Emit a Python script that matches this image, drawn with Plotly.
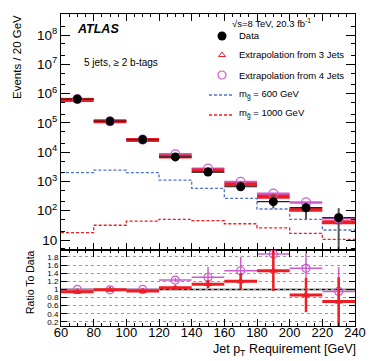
import plotly.graph_objects as go

# ---------------- data ----------------
bin_edges = [60, 80, 100, 120, 140, 160, 180, 200, 220, 240]
bin_centers = [70, 90, 110, 130, 150, 170, 190, 210, 230]
data_vals = [6.5e5, 1.15e5, 2.7e4, 6.9e3, 2.1e3, 660, 205, 127, 58]
data_err_up = [5e3, 1.5e3, 500, 200, 150, 100, 150, 55, 65]
data_err_dn = [5e3, 1.5e3, 500, 200, 150, 100, 85, 75, 55]
ratio_3jets = [0.94, 0.99, 0.96, 1.04, 1.13, 1.20, 1.46, 0.86, 0.70]
ratio_3jets_err = [0.03, 0.02, 0.03, 0.04, 0.10, 0.20, 0.50, 0.42, 0.60]
ratio_4jets = [1.00, 0.99, 1.00, 1.23, 1.30, 1.46, 1.87, 1.52, 0.95]
ratio_4jets_err = [0.03, 0.02, 0.03, 0.05, 0.25, 0.34, 0.50, 0.41, 0.60]
sig_600 = [2.0e3, 2.45e3, 2.0e3, 1.12e3, 580, 265, 115, 51, 22]
sig_1000 = [18, 32, 44, 51, 46, 36, 26, 17, 10.5]
main_tick_vals = [10, 1e2, 1e3, 1e4, 1e5, 1e6, 1e7, 1e8]
main_tick_text = ["10", "10<sup>2</sup>", "10<sup>3</sup>", "10<sup>4</sup>", "10<sup>5</sup>",
                  "10<sup>6</sup>", "10<sup>7</sup>", "10<sup>8</sup>"]
ratio_tick_vals = [0.2, 0.4, 0.6, 0.8, 1.0, 1.2, 1.4, 1.6, 1.8]
ratio_tick_text = ["0.2", "0.4", "0.6", "0.8", "1", "1.2", "1.4", "1.6", "1.8"]

ext_3jets = [d * r for d, r in zip(data_vals, ratio_3jets)]
ext_4jets = [d * r for d, r in zip(data_vals, ratio_4jets)]

RED = "#f01c24"
PINK = "#cc5ccc"
BLUE = "#5272c8"
FONT = "Liberation Sans"

W, H = 374, 361
L, R, T, B = 61, 355, 14, 326
SPLIT_PX = 250


def px(x):
    return (x - L) / (R - L)


def py(y):
    return (B - y) / (B - T)


def segs(vals):
    xs, ys = [], []
    for i, v in enumerate(vals):
        xs += [bin_edges[i], bin_edges[i + 1], None]
        ys += [v, v, None]
    return xs, ys


fig = go.Figure()

# ---- main panel ----
fig.add_trace(go.Scatter(x=bin_edges, y=sig_600 + [sig_600[-1]], mode="lines",
                         line=dict(shape="hv", color=BLUE, width=1.3, dash="3px,2px"),
                         xaxis="x", yaxis="y"))
fig.add_trace(go.Scatter(x=bin_edges, y=sig_1000 + [sig_1000[-1]], mode="lines",
                         line=dict(shape="hv", color=RED, width=1.3, dash="3px,2px"),
                         xaxis="x", yaxis="y"))
sx, sy = segs(ext_4jets)
fig.add_trace(go.Scatter(x=sx, y=sy, mode="lines", line=dict(color=PINK, width=2.5),
                         xaxis="x", yaxis="y"))
sx, sy = segs(ext_3jets)
fig.add_trace(go.Scatter(x=sx, y=sy, mode="lines", line=dict(color=RED, width=4),
                         xaxis="x", yaxis="y"))
sx, sy = segs(data_vals)
fig.add_trace(go.Scatter(x=sx, y=sy, mode="lines", line=dict(color="#222", width=1.2),
                         xaxis="x", yaxis="y"))
fig.add_trace(go.Scatter(x=bin_centers, y=ext_3jets, mode="markers",
                         marker=dict(symbol="triangle-up-open", size=6, color=RED, line=dict(width=1)),
                         xaxis="x", yaxis="y"))
fig.add_trace(go.Scatter(x=bin_centers, y=ext_4jets, mode="markers",
                         marker=dict(symbol="circle-open", size=9, color=PINK, line=dict(width=1.2)),
                         xaxis="x", yaxis="y"))
fig.add_trace(go.Scatter(x=bin_centers, y=data_vals, mode="markers",
                         marker=dict(symbol="circle", size=9, color="black"),
                         error_y=dict(type="data", array=data_err_up, arrayminus=data_err_dn,
                                      color="#555", thickness=2, width=0),
                         xaxis="x", yaxis="y"))

# ---- ratio panel ----
sx, sy = segs(ratio_4jets)
fig.add_trace(go.Scatter(x=sx, y=sy, mode="lines", line=dict(color=PINK, width=1.5),
                         xaxis="x2", yaxis="y2"))
fig.add_trace(go.Scatter(x=bin_centers, y=ratio_4jets, mode="markers",
                         marker=dict(symbol="circle-open", size=8, color=PINK, line=dict(width=1.2)),
                         error_y=dict(type="data", array=ratio_4jets_err, color=PINK, thickness=1.5, width=0),
                         xaxis="x2", yaxis="y2"))
sx, sy = segs(ratio_3jets)
fig.add_trace(go.Scatter(x=sx, y=sy, mode="lines", line=dict(color=RED, width=3),
                         xaxis="x2", yaxis="y2"))
fig.add_trace(go.Scatter(x=bin_centers, y=ratio_3jets, mode="markers",
                         marker=dict(symbol="triangle-up-open", size=6, color=RED, line=dict(width=1)),
                         error_y=dict(type="data", array=ratio_3jets_err, color=RED, thickness=2.5, width=0),
                         xaxis="x2", yaxis="y2"))

# ---- legend (drawn on an overlay axis in pixel units of the main panel) ----
fig.add_trace(go.Scatter(x=[222], y=[36], mode="markers", marker=dict(size=9, color="black"),
                         xaxis="x3", yaxis="y3", cliponaxis=False))
fig.add_trace(go.Scatter(x=[222], y=[55], mode="markers",
                         marker=dict(symbol="triangle-up-open", size=6, color=RED, line=dict(width=1)),
                         xaxis="x3", yaxis="y3", cliponaxis=False))
fig.add_trace(go.Scatter(x=[222], y=[75], mode="markers",
                         marker=dict(symbol="circle-open", size=8, color=PINK, line=dict(width=1.2)),
                         xaxis="x3", yaxis="y3", cliponaxis=False))
fig.add_trace(go.Scatter(x=[209, 233], y=[95, 95], mode="lines",
                         line=dict(color=BLUE, width=1.3, dash="3px,2px"),
                         xaxis="x3", yaxis="y3", cliponaxis=False))
fig.add_trace(go.Scatter(x=[209, 233], y=[115, 115], mode="lines",
                         line=dict(color=RED, width=1.3, dash="3px,2px"),
                         xaxis="x3", yaxis="y3", cliponaxis=False))

annotations = []


def txt(text, x, y, size=9.5, xanchor="left", angle=0, **kw):
    annotations.append(dict(text=text, x=px(x), y=py(y), xref="paper", yref="paper",
                            xanchor=xanchor, yanchor="middle", showarrow=False, textangle=angle,
                            font=dict(family=FONT, size=size, color="black"), **kw))


txt("\u221as=8 TeV, 20.3 fb<sup>-1</sup>", 230, 23, size=9.5)
txt("Data", 237, 36)
txt("Extrapolation from 3 Jets", 237, 55)
txt("Extrapolation from 4 Jets", 237, 75)
txt("m<sub>g\u0303</sub> = 600 GeV", 237, 94)
txt("m<sub>g\u0303</sub> = 1000 GeV", 237, 114)
txt("<b><i>ATLAS</i></b>", 75, 29, size=12.5)
txt("5 jets, \u2265 2 b-tags", 82, 62, size=10)
txt("Events / 20 GeV", 17, 57, size=11.5, xanchor="center", angle=-90)
txt("Ratio To Data", 30, 282, size=10.5, xanchor="center", angle=-90)
txt("Jet p<sub>T</sub> Requirement [GeV]", 358, 350, size=12.5, xanchor="right")

split = py(SPLIT_PX)
axis_common = dict(showline=True, linecolor="black", linewidth=1, ticks="inside",
                   mirror="allticks", tickcolor="black", zeroline=False, automargin=False)

fig.update_layout(
    template="none",
    width=W, height=H, showlegend=False,
    margin=dict(l=L, r=W - R, t=T, b=H - B, pad=0, autoexpand=False),
    paper_bgcolor="white", plot_bgcolor="white",
    font=dict(family=FONT, color="black"),
    xaxis=dict(domain=[0, 1], anchor="y", range=[60, 240], dtick=20, tick0=60, ticklen=7,
               showticklabels=False, showgrid=False,
               minor=dict(dtick=5, ticklen=3, ticks="inside", tickcolor="black", showgrid=False),
               **axis_common),
    yaxis=dict(domain=[split, 1], anchor="x", type="log", range=[0.66, 8.72],
               tickvals=main_tick_vals, ticktext=main_tick_text, ticklen=9,
               tickfont=dict(size=13.5), showgrid=False,
               minor=dict(ticklen=4, ticks="inside", tickcolor="black", showgrid=False),
               **axis_common),
    xaxis2=dict(domain=[0, 1], anchor="y2", range=[60, 240], dtick=20, tick0=60, ticklen=7,
                tickfont=dict(size=13), showgrid=False, ticklabelstandoff=-6,
                minor=dict(dtick=5, ticklen=3, ticks="inside", tickcolor="black", showgrid=False),
                **axis_common),
    yaxis2=dict(domain=[0, split], anchor="x2", range=[0.1, 1.97],
                tickvals=ratio_tick_vals, ticktext=ratio_tick_text, ticklen=6,
                tickfont=dict(size=8), showgrid=True, gridcolor="#999", griddash="dot",
                gridwidth=1, **axis_common),
    xaxis3=dict(overlaying="x", anchor="y3", range=[L, R], visible=False, fixedrange=True,
                automargin=False),
    yaxis3=dict(overlaying="y", anchor="x3", range=[SPLIT_PX, T], visible=False, fixedrange=True,
                automargin=False),
    annotations=annotations,
    shapes=[dict(type="line", xref="x2", yref="y2", x0=60, x1=240, y0=1, y1=1,
                 line=dict(color="black", width=1.5), layer="below")],
)

fig.write_html("out.html", config={"displayModeBar": False},
               post_script="document.body.style.margin='0';document.body.style.padding='0';")
